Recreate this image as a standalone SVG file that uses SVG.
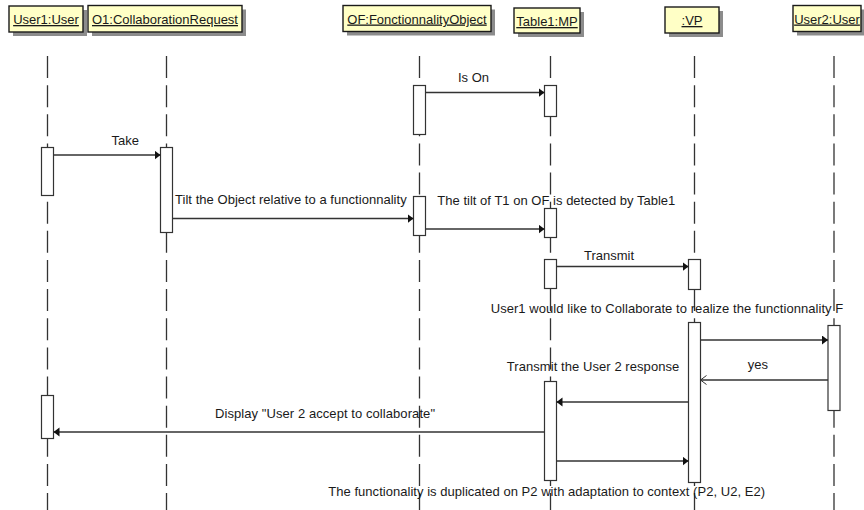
<svg xmlns="http://www.w3.org/2000/svg" width="864" height="510" viewBox="0 0 864 510">
<defs>
<style>
.hd{fill:#ffffc6;stroke:#1a1a1a;stroke-width:1.4}
.sh{fill:#8c8c8c}
.ht{font-family:"Liberation Sans",Arial,sans-serif;font-size:13px;fill:#1a1a1a;text-anchor:middle;text-decoration:underline}
.ll{stroke:#333;stroke-width:1.3;stroke-dasharray:22 7.14;fill:none}
.act{fill:#fff;stroke:#333;stroke-width:1.2}
.msg{stroke:#333;stroke-width:1.3;fill:none}
.lb{font-family:"Liberation Sans",Arial,sans-serif;font-size:13px;fill:#1a1a1a}
</style>
<marker id="fa" markerUnits="userSpaceOnUse" markerWidth="8" markerHeight="10" refX="6" refY="4.5" orient="auto">
<path d="M0,0 L6,4.5 L0,9 z" fill="#111"/>
</marker>
<marker id="oa" markerUnits="userSpaceOnUse" markerWidth="8" markerHeight="12" refX="6.5" refY="5" orient="auto">
<path d="M0.5,0.5 L6.5,5 L0.5,9.5" fill="none" stroke="#333" stroke-width="1"/>
</marker>
</defs>
<rect width="864" height="510" fill="#fff"/>

<g id="user1">
<rect class="sh" x="13" y="10" width="74" height="26"/>
<rect class="hd" x="9" y="6" width="74" height="26"/>
<text class="ht" x="46" y="24">User1:User</text>
<line class="ll" x1="47.5" y1="56" x2="47.5" y2="510"/>
<rect class="act" x="41.5" y="147.5" width="12" height="48"/>
<rect class="act" x="41.5" y="395.5" width="12" height="43"/>
</g>

<g id="o1">
<rect class="sh" x="92" y="9.5" width="154" height="26.5"/>
<rect class="hd" x="88" y="5.5" width="154" height="26.5"/>
<text class="ht" x="165" y="24">O1:CollaborationRequest</text>
<line class="ll" x1="166.5" y1="56" x2="166.5" y2="510"/>
<rect class="act" x="160.5" y="147.5" width="12" height="85"/>
</g>

<g id="of">
<rect class="sh" x="347" y="9.5" width="148" height="26"/>
<rect class="hd" x="343" y="5.5" width="148" height="26"/>
<text class="ht" x="417" y="23.5">OF:FonctionnalityObject</text>
<line class="ll" x1="419.5" y1="56" x2="419.5" y2="510"/>
<rect class="act" x="413.5" y="85.5" width="12" height="49"/>
<rect class="act" x="413.5" y="196.5" width="12" height="39"/>
</g>

<g id="table1">
<rect class="sh" x="518" y="12" width="66" height="25"/>
<rect class="hd" x="514" y="8" width="66" height="25"/>
<text class="ht" x="547" y="26">Table1:MP</text>
<line class="ll" x1="550.5" y1="56" x2="550.5" y2="510"/>
<rect class="act" x="544.5" y="85.5" width="12" height="31"/>
<rect class="act" x="544.5" y="208.5" width="12" height="29"/>
<rect class="act" x="544.5" y="259.5" width="12" height="29"/>
<rect class="act" x="544.5" y="381.5" width="12" height="99"/>
</g>

<g id="vp">
<rect class="sh" x="669" y="11" width="54" height="26"/>
<rect class="hd" x="665" y="7" width="54" height="26"/>
<text class="ht" x="692" y="25">:VP</text>
<line class="ll" x1="694.5" y1="56" x2="694.5" y2="510"/>
<rect class="act" x="688.5" y="259.5" width="12" height="30"/>
<rect class="act" x="688.5" y="322.5" width="12" height="160"/>
</g>

<g id="user2">
<rect class="sh" x="797" y="9.5" width="68" height="26"/>
<rect class="hd" x="793" y="5.5" width="68" height="26"/>
<text class="ht" x="827" y="23.5">User2:User</text>
<line class="ll" x1="834" y1="56" x2="834" y2="510"/>
<rect class="act" x="828" y="325.5" width="12" height="85"/>
</g>

<g id="connectors">
<line class="msg" x1="425.5" y1="92.5" x2="544.5" y2="92.5" marker-end="url(#fa)"/>
<text class="lb" x="458" y="82">Is On</text>
<line class="msg" x1="53.5" y1="155" x2="160.5" y2="155" marker-end="url(#fa)"/>
<text class="lb" x="111.5" y="144.5">Take</text>
<line class="msg" x1="172.5" y1="218.5" x2="413.5" y2="218.5" marker-end="url(#fa)"/>
<text class="lb" x="175" y="204" textLength="231.7">Tilt the Object relative to a functionnality</text>
<line class="msg" x1="425.5" y1="229" x2="544.5" y2="229" marker-end="url(#fa)"/>
<text class="lb" x="437.3" y="204.5" textLength="238">The tilt of T1 on OF is detected by Table1</text>
<line class="msg" x1="556.5" y1="266.5" x2="688.5" y2="266.5" marker-end="url(#fa)"/>
<text class="lb" x="584" y="259.5">Transmit</text>
<line class="msg" x1="700.5" y1="340" x2="828" y2="340" marker-end="url(#fa)"/>
<text class="lb" x="490.7" y="313" textLength="352.6">User1 would like to Collaborate to realize the functionnality F</text>
<line class="msg" x1="828" y1="380" x2="700.5" y2="380" marker-end="url(#oa)"/>
<text class="lb" x="747.7" y="369">yes</text>
<line class="msg" x1="688.5" y1="402" x2="556.5" y2="402" marker-end="url(#fa)"/>
<text class="lb" x="506.7" y="371" textLength="172.6">Transmit the User 2 response</text>
<line class="msg" x1="544.5" y1="432" x2="53.5" y2="432" marker-end="url(#fa)"/>
<text class="lb" x="215" y="417.5" textLength="220">Display "User 2 accept to collaborate"</text>
<line class="msg" x1="556.5" y1="461" x2="688.5" y2="461" marker-end="url(#fa)"/>
<text class="lb" x="328.3" y="496" textLength="436.7">The functionality is duplicated on P2 with adaptation to context (P2, U2, E2)</text>
</g>
</svg>
